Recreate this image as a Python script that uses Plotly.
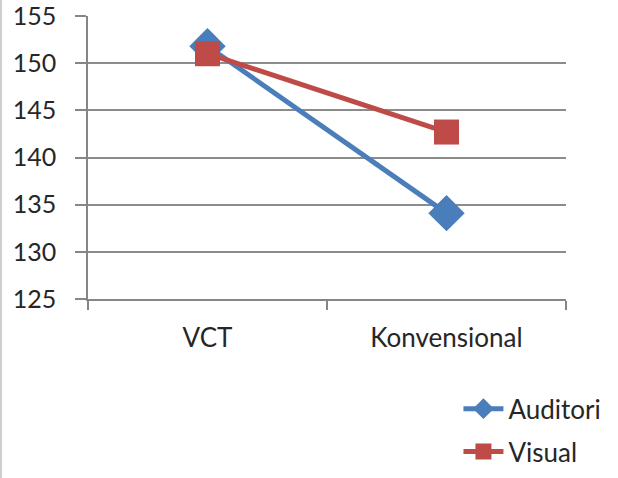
import plotly.graph_objects as go

categories = ["VCT", "Konvensional"]
auditori = [151.8, 134.1]
visual = [151.0, 142.7]
y_ticks = [125, 130, 135, 140, 145, 150, 155]

fig = go.Figure()
fig.add_trace(go.Scatter(
    x=categories, y=auditori, name="Auditori", mode="lines+markers",
    legendgroup="a",
    line=dict(color="#4A7EBB", width=5),
    marker=dict(symbol="diamond", size=28, color="#4A7EBB"),
))
fig.add_trace(go.Scatter(
    x=categories, y=visual, name="Visual", mode="lines+markers",
    legendgroup="v",
    line=dict(color="#BE4B48", width=5),
    marker=dict(symbol="square", size=25, color="#BE4B48"),
))

font = "Lato, 'Liberation Sans', sans-serif"
fig.update_layout(
    width=618, height=478,
    margin=dict(l=88, r=52, t=16, b=179, autoexpand=False),
    plot_bgcolor="white", paper_bgcolor="white",
    font=dict(family=font, size=26, color="#262626"),
    showlegend=True,
    legend=dict(x=0.775, y=-0.305, xanchor="left", yanchor="top",
                font=dict(size=26, color="#262626"),
                itemwidth=40, traceorder="grouped", tracegroupgap=6,
                bgcolor="rgba(0,0,0,0)"),
    xaxis=dict(
        type="category", range=[-0.5, 1.5],
        showline=True, linecolor="#868686", linewidth=1.5,
        ticks="outside", tickson="boundaries", ticklen=9, tickcolor="#868686", tickwidth=1.5,
        showgrid=False, ticklabelstandoff=15,
        tickfont=dict(size=26, color="#262626"),
    ),
    yaxis=dict(
        range=[125, 155], tickvals=y_ticks,
        showline=True, linecolor="#868686", linewidth=1.5,
        ticks="outside", ticklen=11, tickcolor="#868686", tickwidth=1.5,
        showgrid=True, gridcolor="#8C8C8C", gridwidth=1.5,
        zeroline=False, ticklabelstandoff=14, ticklabeloverflow="allow",
        tickfont=dict(size=25, color="#262626"),
    ),
    shapes=[dict(type="line", xref="paper", yref="paper",
                 x0=-0.182, x1=-0.182, y0=-0.64, y1=1.07,
                 line=dict(color="#CFCFCF", width=2))],
)

fig.write_html("out.html", config={"displayModeBar": False},
               post_script="document.body.style.margin='0';")
